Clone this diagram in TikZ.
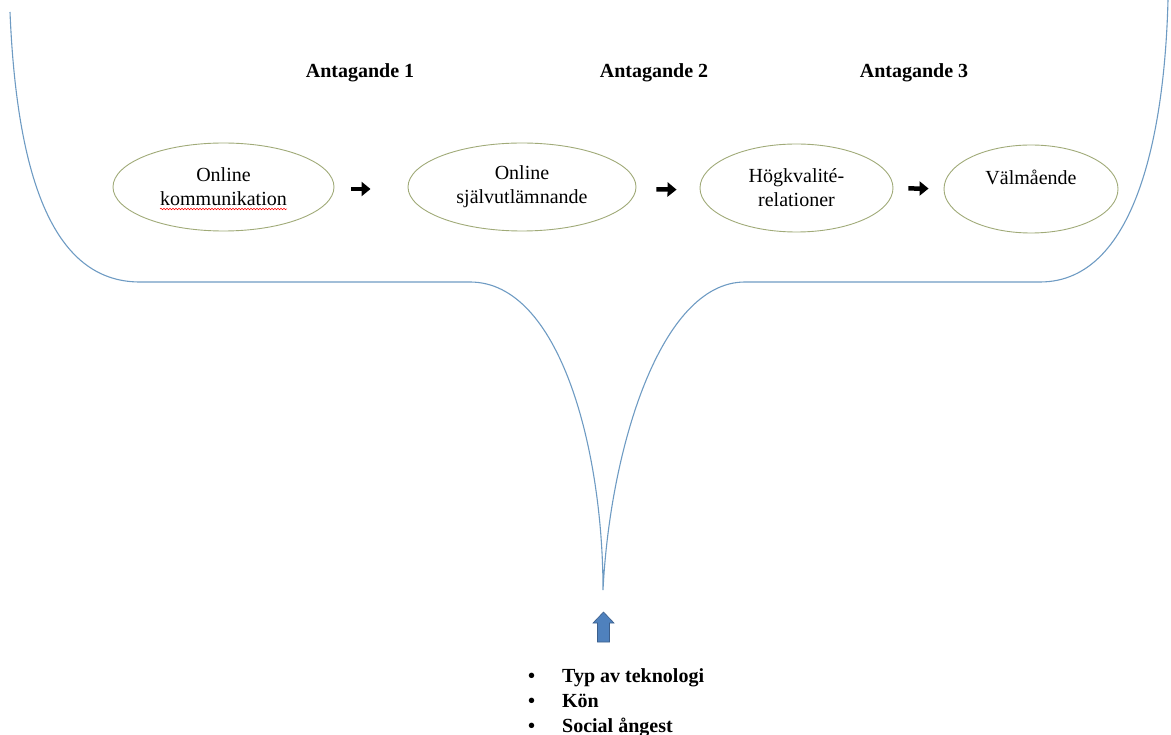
\documentclass[tikz,border=0pt]{standalone}
\usepackage{fontspec}
\setmainfont{Liberation Serif}
\usetikzlibrary{arrows.meta,decorations.pathmorphing,shapes.geometric}

\definecolor{bracecol}{RGB}{110,155,195}
\definecolor{ovalcol}{RGB}{160,170,120}
\definecolor{upfill}{RGB}{79,129,189}
\definecolor{upline}{RGB}{60,95,140}

\begin{document}
\begin{tikzpicture}[x=1pt,y=-1pt,
    every node/.style={font=\fontsize{20}{24}\selectfont},
    oval/.style={draw=ovalcol, line width=0.9pt, ellipse, inner sep=0pt,
        minimum height=88pt, align=center},
    nextarrow/.style={line width=4.5pt, -{Triangle[length=9pt,width=14pt]}},
    heading/.style={font=\fontsize{20}{24}\selectfont\bfseries},
    factor/.style={font=\fontsize{20}{24}\selectfont\bfseries, anchor=base west, inner sep=0pt}]
    \useasboundingbox (0,0) rectangle (1171,735);
    % brace
    \draw[bracecol, line width=1.1pt] (10,12) .. controls (18,205) and (65,282) .. (140,282)
        -- (470,282) .. controls (560,282) and (603,450) .. (603,590)
        .. controls (610,450) and (660,282) .. (745,282)
        -- (1040,282) .. controls (1140,282) and (1165,120) .. (1168,0);
    % the four steps
    \node[oval, minimum width=221pt] (komm) at (223.5,187) {Online\\kommunikation};
    \node[oval, minimum width=228pt] (sjalv) at (522,187) {Online\\självutlämnande};
    \node[oval, minimum width=193pt] (relat) at (796.5,188) {Högkvalité-\\relationer};
    \node[oval, minimum width=174pt] (valm) at (1031,189) {Välmående\\\mbox{}};
    \draw[red, line width=0.5pt, decorate, decoration={snake, amplitude=0.8pt, segment length=3pt}]
        (160,209) -- (287,209);
    \draw[nextarrow, shorten <=17pt, shorten >=37pt] ([yshift=-2pt]komm.east) -- ([yshift=-2pt]sjalv.west);
    \draw[nextarrow, shorten <=20pt, shorten >=23pt] ([yshift=-2pt]sjalv.east) -- ([yshift=-2pt]relat.west);
    \draw[nextarrow, shorten <=15pt, shorten >=15pt] (relat) -- (valm);
    \node[heading] (ant1) at (360,73) {Antagande 1};
    \node[heading] (ant2) at (654,73) {Antagande 2};
    \node[heading] (ant3) at (914,73) {Antagande 3};
    % block arrow under the tip
    \coordinate (up) at (603.5,612);
    \filldraw[fill=upfill, draw=upline, line width=0.6pt] (up) -- ++(10.5,11) -- ++(-4.5,0) -- ++(0,19)
        -- ++(-12,0) -- ++(0,-19) -- ++(-4.5,0) -- cycle;
    % moderators
    \node[factor] (typ) at (528,682) {\makebox[34pt][l]{\textbullet}Typ av teknologi};
    \node[factor] (kon) at (528,707) {\makebox[34pt][l]{\textbullet}Kön};
    \node[factor] (angest) at (528,732) {\makebox[34pt][l]{\textbullet}Social ångest};
\end{tikzpicture}
\end{document}
